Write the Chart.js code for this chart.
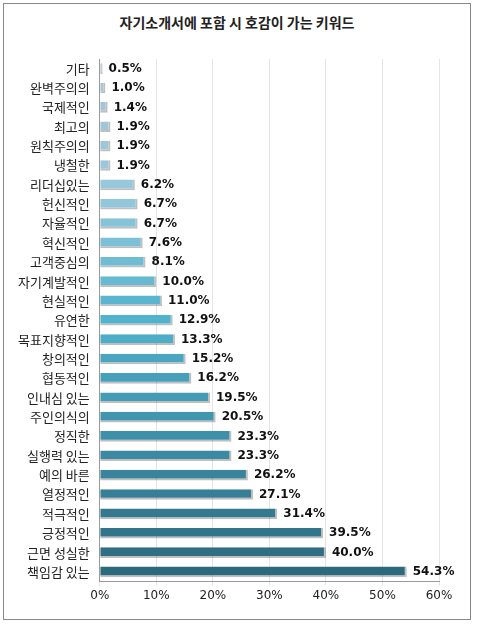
<!DOCTYPE html>
<html><head><meta charset="utf-8">
<script src="https://cdn.jsdelivr.net/npm/chart.js@4"></script>
<style>
body{margin:0;background:#fff;}
#wrap{position:absolute;left:3px;top:3px;width:468px;height:617px;border:1px solid #888;box-sizing:border-box;}
#title{position:absolute;left:0;width:100%;top:8px;text-align:center;font:bold 14px "Noto Sans CJK KR";color:#222;}
#c{position:absolute;left:0;top:0;}
</style></head><body>
<div id="wrap"><div id="title">자기소개서에 포함 시 호감이 가는 키워드</div></div>
<canvas id="c" width="477" height="626"></canvas>
<script>
const categories=["기타","완벽주의의","국제적인","최고의","원칙주의의","냉철한","리더십있는","헌신적인","자율적인","혁신적인","고객중심의","자기계발적인","현실적인","유연한","목표지향적인","창의적인","협동적인","인내심 있는","주인의식의","정직한","실행력 있는","예의 바른","열정적인","적극적인","긍정적인","근면 성실한","책임감 있는"];
const values=[0.5,1.0,1.4,1.9,1.9,1.9,6.2,6.7,6.7,7.6,8.1,10.0,11.0,12.9,13.3,15.2,16.2,19.5,20.5,23.3,23.3,26.2,27.1,31.4,39.5,40.0,54.3];
const ticks=[0,10,20,30,40,50,60];
function col(i,n){
  const stops=[[0,[170,196,210]],[0.25,[150,200,220]],[0.5,[80,178,204]],[0.75,[60,140,165]],[1,[45,105,125]]];
  const t=i/(n-1);let a=stops[0],b=stops[1];
  for(let k=0;k<stops.length-1;k++){if(t>=stops[k][0]&&t<=stops[k+1][0]){a=stops[k];b=stops[k+1];}}
  const u=(t-a[0])/(b[0]-a[0]||1);
  return 'rgb('+a[1].map((v,j)=>Math.round(v+(b[1][j]-v)*u)).join(',')+')';
}
const colors=values.map((v,i)=>col(i,values.length));
const labelPlugin={id:'lbl',afterDatasetsDraw(ch){
  const ctx=ch.ctx;ctx.save();ctx.font='bold 12px "DejaVu Sans"';ctx.fillStyle='#111';ctx.textBaseline='middle';
  ch.getDatasetMeta(0).data.forEach((b,i)=>{ctx.fillText(values[i].toFixed(1)+'%',b.x+6,b.y);});
  ctx.restore();}};
new Chart(document.getElementById('c'),{type:'bar',
 data:{labels:categories,datasets:[{data:values,backgroundColor:colors,borderColor:'rgba(0,0,0,0.25)',borderWidth:{top:0,left:0,right:2,bottom:2},barPercentage:0.55,categoryPercentage:1}]},
 options:{indexAxis:'y',responsive:false,animation:false,
  layout:{padding:{left:12,right:38,top:59,bottom:20}},
  plugins:{legend:{display:false},tooltip:{enabled:false}},
  scales:{x:{min:0,max:60,afterBuildTicks(a){a.ticks=ticks.map(v=>({value:v}));},
     ticks:{callback:v=>v+'%',color:'#222',font:{size:12,family:'"DejaVu Sans"'}},
     grid:{color:'#e4e4e4',tickLength:4},border:{color:'#999'}},
   y:{ticks:{color:'#222',padding:6,font:{size:13,family:'"Noto Sans CJK KR"'}},grid:{display:false,tickLength:4},border:{color:'#999'}}}},
 plugins:[labelPlugin]});
</script></body></html>
